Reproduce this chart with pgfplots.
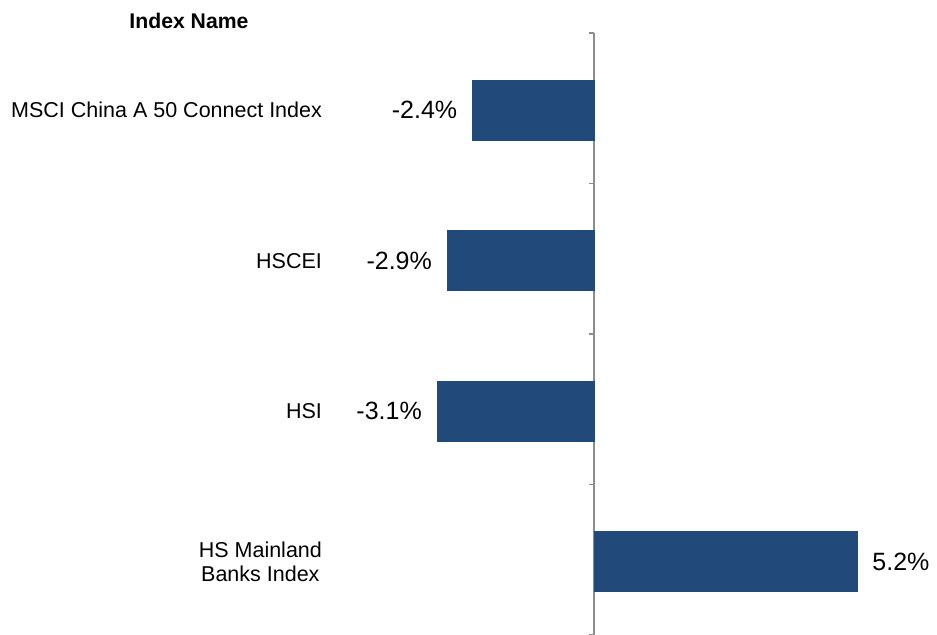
\documentclass[border=0pt]{standalone}
\usepackage{pgfplots}
\pgfplotsset{compat=1.18}
\usepackage{fontspec}
\setmainfont{Liberation Sans}
\definecolor{barblue}{HTML}{21497A}
\definecolor{axgray}{HTML}{8C8C8C}

\begin{document}
\begin{tikzpicture}
\begin{axis}[
    scale only axis, width=468.5pt, height=301pt,
    xmin=-11.74, xmax=6.78, ymin=-0.5, ymax=3.5, y dir=reverse,
    axis y line=middle, axis x line=none,
    axis line style={-, axgray, line width=0.9pt},
    clip=false,
    xbar, bar width=30pt, bar shift=0pt,
    ytick={0,1,2,3},
    yticklabels={MSCI China A 50 Connect Index, HSCEI, HSI, {HS Mainland\\Banks Index}},
    yticklabel style={font=\fontsize{10.75}{12}\selectfont, align=center, anchor=east, xshift=-132.5pt, yshift=-1pt},
    major tick length=0pt,
    minor ytick={-0.5,0.5,1.5,2.5,3.5},
    minor tick length=2.5pt,
    tick align=outside,
    tick style={axgray, line width=0.9pt},
    title={Index Name},
    title style={at={(0.2017,1)}, anchor=center, yshift=0pt, font=\bfseries\fontsize{10.6}{12}\selectfont},
    point meta=explicit symbolic,
    nodes near coords,
]
% negative changes: label left of the bar
\addplot[fill=barblue, draw=barblue, yshift=-1pt,
    nodes near coords style={anchor=east, font=\fontsize{12.5}{14}\selectfont, inner xsep=7.5pt, black}]
coordinates {
    (-2.4,0) [-2.4\%]
    (-2.9,1) [-2.9\%]
    (-3.1,2) [-3.1\%]
};
% positive change: label right of the bar
\addplot[fill=barblue, draw=barblue, yshift=-1pt,
    nodes near coords style={anchor=west, font=\fontsize{12.5}{14}\selectfont, inner xsep=7.5pt, black}]
coordinates {
    (5.2,3) [5.2\%]
};
\end{axis}
\pgfresetboundingbox
\path (current axis.south west) rectangle ([yshift=16.5pt]current axis.north east);
\end{tikzpicture}
\end{document}
